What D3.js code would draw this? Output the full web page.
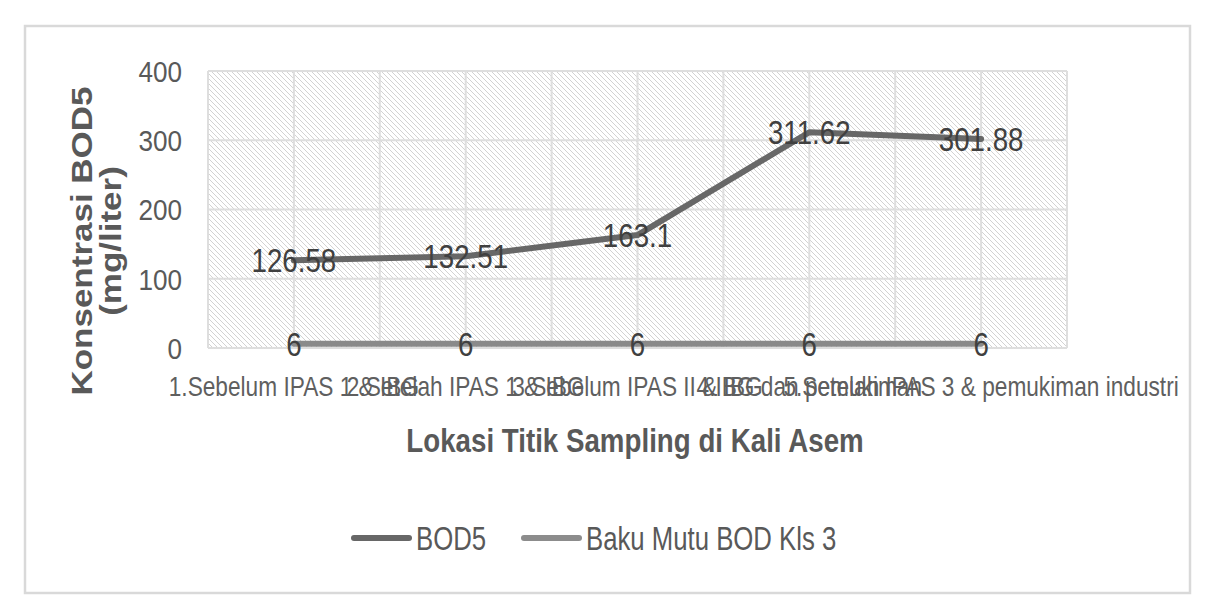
<!DOCTYPE html>
<html>
<head>
<meta charset="utf-8">
<script src="https://cdn.jsdelivr.net/npm/d3@7"></script>
<style>
  html, body { margin: 0; padding: 0; background: #ffffff; }
  svg { display: block; font-family: "Liberation Sans", Arial, sans-serif; }
</style>
</head>
<body>
<svg id="chart" width="1216" height="615"></svg>
<script>
// ---- data ----
const categories = [
  "1.Sebelum IPAS 1 & IBG",
  "2.Setelah IPAS 1 & IBG",
  "3.Sebelum IPAS II & IBG",
  "4.IBG dan pemukiman",
  "5.Setelah IPAS 3 & pemukiman industri"
];
const bod5 = [126.58, 132.51, 163.1, 311.62, 301.88];
const bakuMutu = [6, 6, 6, 6, 6];
const yTicks = [0, 100, 200, 300, 400];
const seriesNames = ["BOD5", "Baku Mutu BOD Kls 3"];
const xTitle = "Lokasi Titik Sampling di Kali Asem";
const yTitleLines = ["Konsentrasi BOD5", "(mg/liter)"];

// ---- layout ----
const svg = d3.select("#chart");
const W = 1216, H = 615;
const plot = { left: 208, right: 1067, top: 71, bottom: 348 };
const colors = { bod: "#676767", baku: "#8a8a8a" };

svg.append("rect").attr("x", 0).attr("y", 0).attr("width", W).attr("height", H).attr("fill", "#fff");
// outer chart border
svg.append("rect").attr("x", 25).attr("y", 26).attr("width", 1165).attr("height", 567)
  .attr("fill", "#fff").attr("stroke", "#d9d9d9").attr("stroke-width", 2.5);

const x = d3.scaleBand().domain(categories).range([plot.left, plot.right]).padding(0);
const cx = d => x(d) + x.bandwidth() / 2;
const y = d3.scaleLinear().domain([0, 400]).range([plot.bottom, plot.top]);

// hatch pattern
const defs = svg.append("defs");
const pat = defs.append("pattern").attr("id", "hatch").attr("patternUnits", "userSpaceOnUse")
  .attr("width", 5).attr("height", 5);
pat.append("rect").attr("width", 5).attr("height", 5).attr("fill", "#ffffff");
pat.append("path").attr("d", "M0,0 L5,5 M-1,4 L1,6 M4,-1 L6,1")
  .attr("stroke", "#d2d2d2").attr("stroke-width", 1);

svg.append("rect").attr("x", plot.left).attr("y", plot.top)
  .attr("width", plot.right - plot.left).attr("height", plot.bottom - plot.top)
  .attr("fill", "url(#hatch)");

// gridlines
const grid = svg.append("g").attr("stroke", "#dedede").attr("stroke-width", 2);
yTicks.forEach(t => {
  grid.append("line").attr("x1", plot.left).attr("x2", plot.right).attr("y1", y(t)).attr("y2", y(t));
});
const vx = [];
categories.forEach(c => { vx.push(x(c)); vx.push(cx(c)); });
vx.push(plot.right);
vx.forEach(v => {
  grid.append("line").attr("x1", v).attr("x2", v).attr("y1", plot.top).attr("y2", plot.bottom);
});

// y axis (labels only)
const yAxis = svg.append("g").attr("transform", `translate(${plot.left},0)`)
  .call(d3.axisLeft(y).tickValues(yTicks).tickSize(0).tickFormat(d3.format("d")));
yAxis.select(".domain").remove();
yAxis.selectAll("text")
  .attr("x", 0).attr("dy", "0.36em")
  .attr("transform", "translate(-26,0) scale(0.9,1)")
  .attr("text-anchor", "end")
  .attr("fill", "#595959").style("font-size", "29px").style("font-family", "'Liberation Sans', Arial, sans-serif");

// x axis (labels only)
const xAxis = svg.append("g").attr("transform", `translate(0,${plot.bottom})`)
  .call(d3.axisBottom(x).tickSize(0));
xAxis.select(".domain").remove();
xAxis.selectAll("text")
  .attr("y", 0).attr("dy", null)
  .attr("transform", "translate(0,48) scale(0.81,1)")
  .attr("fill", "#5f5f5f").style("font-size", "28px").style("font-family", "'Liberation Sans', Arial, sans-serif");

// lines
const line = d3.line().x((d, i) => cx(categories[i])).y(d => y(d));
svg.append("path").datum(bakuMutu).attr("d", line).attr("fill", "none")
  .attr("stroke", colors.baku).attr("stroke-width", 6).attr("stroke-linejoin", "round").attr("stroke-linecap", "round");
svg.append("path").datum(bod5).attr("d", line).attr("fill", "none")
  .attr("stroke", colors.bod).attr("stroke-width", 6).attr("stroke-linejoin", "round").attr("stroke-linecap", "round");

// data labels
function dataLabels(vals) {
  svg.append("g").selectAll("text").data(vals).join("text")
    .attr("transform", (d, i) => `translate(${cx(categories[i])},${y(d)}) scale(0.84,1)`)
    .attr("text-anchor", "middle").attr("dy", "0.36em")
    .attr("fill", "#404040").style("font-size", "33px")
    .text(d => String(d));
}
dataLabels(bod5);
dataLabels(bakuMutu);

// axis titles
svg.append("text")
  .attr("transform", "translate(635,452) scale(0.84,1)")
  .attr("text-anchor", "middle").attr("font-weight", "bold")
  .attr("fill", "#595959").style("font-size", "33px")
  .text(xTitle);

const yt = svg.append("text")
  .attr("transform", "translate(92,241) rotate(-90) scale(1,0.85)")
  .attr("text-anchor", "middle").attr("font-weight", "bold")
  .attr("fill", "#595959").style("font-size", "35px");
yt.append("tspan").attr("x", 0).attr("y", 0).text(yTitleLines[0]);
yt.append("tspan").attr("x", 0).attr("y", 34).text(yTitleLines[1]);

// legend
const legendItems = [
  { name: seriesNames[0], color: colors.bod, x1: 354, x2: 409, tx: 416 },
  { name: seriesNames[1], color: "#8c8c8c", x1: 524, x2: 579, tx: 586 }
];
const lg = svg.append("g");
legendItems.forEach(it => {
  lg.append("line").attr("x1", it.x1).attr("x2", it.x2).attr("y1", 538).attr("y2", 538)
    .attr("stroke", it.color).attr("stroke-width", 6).attr("stroke-linecap", "round");
  lg.append("text").attr("transform", `translate(${it.tx},538) scale(0.78,1)`)
    .attr("dy", "0.36em").attr("fill", "#595959").style("font-size", "33px").text(it.name);
});
</script>
</body>
</html>
